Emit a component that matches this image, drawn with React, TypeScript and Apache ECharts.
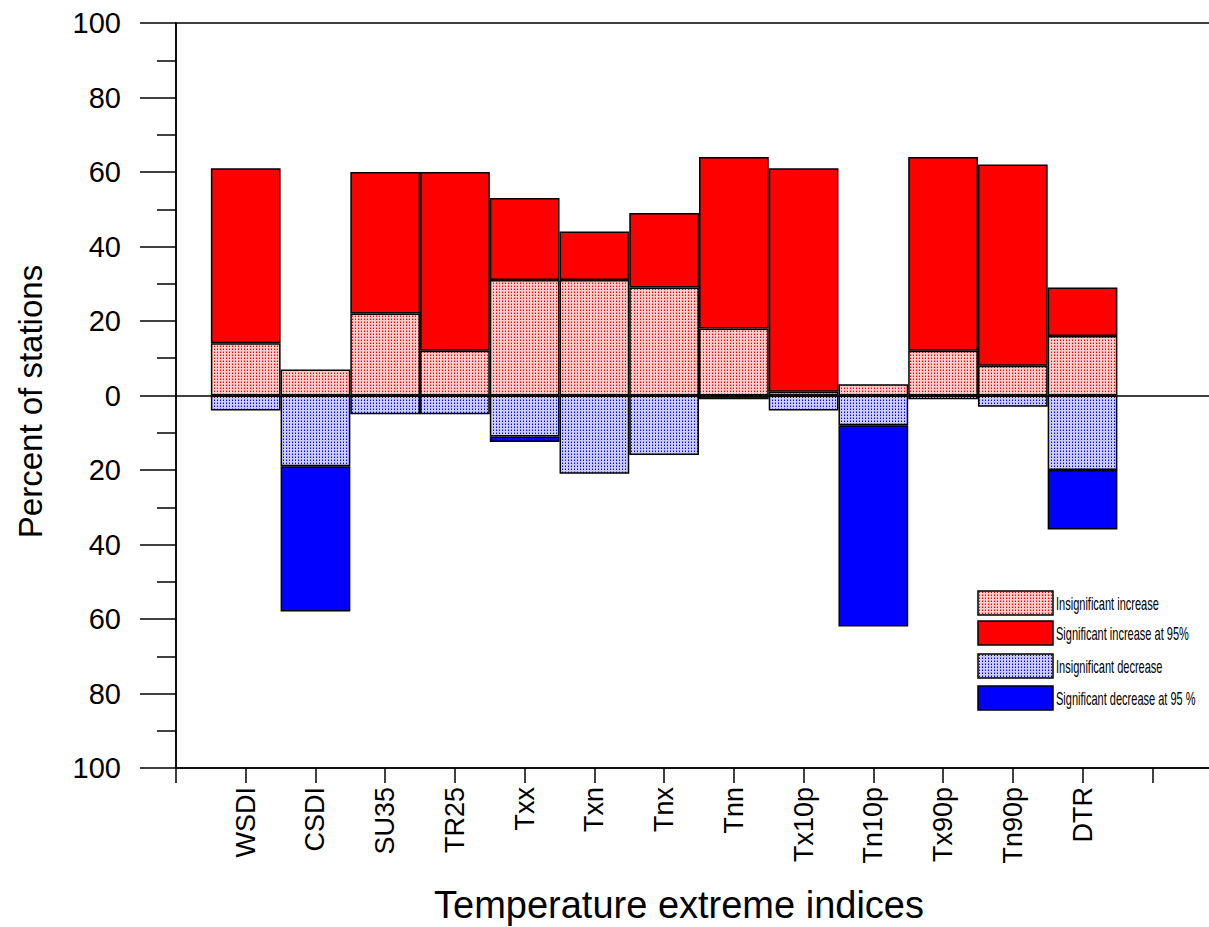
import React, { useEffect, useRef } from 'react';
import * as echarts from 'echarts';

const categories = ['WSDI', 'CSDI', 'SU35', 'TR25', 'Txx', 'Txn', 'Tnx', 'Tnn', 'Tx10p', 'Tn10p', 'Tx90p', 'Tn90p', 'DTR'];
const insigIncrease = [14, 7, 22, 12, 31, 31, 29, 18, 1, 3, 12, 8, 16];
const sigIncrease = [47, 0, 38, 48, 22, 13, 20, 46, 60, 0, 52, 54, 13];
const insigDecrease = [4, 19, 5, 5, 11, 21, 16, 0, 4, 8, 1, 3, 20];
const sigDecrease = [0, 39, 0, 0, 1.5, 0, 0, 1, 0, 54, 0, 0, 16];
const legendNames = [
  'Insignificant increase',
  'Significant increase at 95%',
  'Insignificant decrease',
  'Significant decrease at 95 %',
];
const yLabelTicks = [-100, -80, -60, -40, -20, 0, 20, 40, 60, 80, 100];

const FONT = "'Liberation Sans', Arial, Helvetica, sans-serif";

function makePattern(bg: string, dot: string, mid: string) {
  const c = document.createElement('canvas');
  c.width = 3;
  c.height = 3;
  const ctx = c.getContext('2d')!;
  ctx.fillStyle = bg;
  ctx.fillRect(0, 0, 3, 3);
  ctx.fillStyle = mid;
  ctx.fillRect(1, 0, 1, 1);
  ctx.fillStyle = dot;
  ctx.fillRect(1, 1, 1, 1);
  return { image: c, repeat: 'repeat', imageWidth: 3, imageHeight: 3 } as any;
}

export default function App() {
  const ref = useRef<HTMLDivElement>(null);
  useEffect(() => {
    if (!ref.current) return;
    const chart = echarts.init(ref.current, null, { renderer: 'svg' });
    const redPat = makePattern('#ffcccc', '#ff0000', '#ff7070');
    const bluePat = makePattern('#ccccff', '#0000ff', '#7070ff');
    const fills = [redPat, '#ff0000', bluePat, '#0000ff'];
    const xCats = ['', ...categories, ' ', '  '];
    const pad = (arr: number[], neg: boolean) => [
      '-',
      ...arr.map((v) => (v === 0 ? '-' : neg ? -v : v)),
      '-',
      '-',
    ];
    const seriesData = [
      pad(insigIncrease, false),
      pad(sigIncrease, false),
      pad(insigDecrease, true),
      pad(sigDecrease, true),
    ];
    const series: any[] = seriesData.map((d, i) => ({
      name: legendNames[i],
      type: 'bar',
      stack: 'total',
      barWidth: '100%',
      data: d,
      itemStyle: { color: fills[i], borderColor: '#000', borderWidth: 1.5 },
      emphasis: { disabled: true },
      silent: true,
    }));
    series[0].markLine = {
      silent: true,
      symbol: ['none', 'none'],
      label: { show: false },
      lineStyle: { color: '#000', width: 1.5, type: 'solid' },
      data: [{ yAxis: 0 }],
    };

    const legendRows = [591, 621, 654, 686];
    const legendGraphics: any[] = [];
    legendRows.forEach((y, i) => {
      legendGraphics.push({
        type: 'rect',
        shape: { x: 978, y, width: 75, height: 24 },
        style: { fill: fills[i], stroke: '#000', lineWidth: 1.5 },
        silent: true,
      });
      legendGraphics.push({
        type: 'text',
        x: 1056,
        y: y + 12,
        scaleX: 0.58,
        style: {
          text: legendNames[i],
          fontSize: 19,
          fontFamily: FONT,
          fill: '#000',
          verticalAlign: 'middle',
          align: 'left',
        },
        silent: true,
      });
    });

    chart.setOption({
      animation: false,
      backgroundColor: '#fff',
      grid: {
        left: 176,
        top: 23,
        right: 0,
        bottom: 159,
        show: true,
        borderColor: '#000',
        borderWidth: 1.5,
        backgroundColor: 'transparent',
        containLabel: false,
        outerBoundsMode: 'none',
      },
      xAxis: {
        type: 'category',
        data: xCats,
        boundaryGap: false,
        name: 'Temperature extreme indices',
        nameLocation: 'middle',
        nameGap: 118,
        nameTextStyle: { fontSize: 38, fontFamily: FONT, color: '#000', padding: [0, 40, 0, 0] },
        axisLine: { show: true, onZero: false, lineStyle: { color: '#000', width: 1.5 } },
        axisTick: { show: true, interval: 0, length: 15, lineStyle: { color: '#000', width: 1.5 } },
        axisLabel: { interval: 0, rotate: 90, margin: 19, fontSize: 27, fontFamily: FONT, color: '#000' },
        splitLine: { show: false },
      },
      yAxis: {
        type: 'value',
        min: yLabelTicks[0],
        max: yLabelTicks[yLabelTicks.length - 1],
        interval: 20,
        name: 'Percent of stations',
        nameLocation: 'middle',
        nameGap: 129,
        nameTextStyle: { fontSize: 33, fontFamily: FONT, color: '#000', padding: [0, 12, 0, 0] },
        axisLine: { show: true, lineStyle: { color: '#000', width: 1.5 } },
        axisTick: { show: true, length: 36, lineStyle: { color: '#000', width: 1.5 } },
        minorTick: { show: true, splitNumber: 2, length: 19, lineStyle: { color: '#000', width: 1.5 } },
        axisLabel: {
          margin: 55,
          fontSize: 29,
          fontFamily: FONT,
          color: '#000',
          formatter: (v: number) => String(Math.abs(v)),
        },
        splitLine: { show: false },
        minorSplitLine: { show: false },
      },
      tooltip: { show: false },
      graphic: legendGraphics,
      series,
    });
    return () => chart.dispose();
  }, []);
  return (
    <div style={{ position: 'absolute', left: 0, top: 0, width: 1209, height: 927, overflow: 'hidden', background: '#fff' }}>
      <div ref={ref} style={{ position: 'absolute', left: 0, top: 0, width: 1222, height: 927 }} />
    </div>
  );
}
